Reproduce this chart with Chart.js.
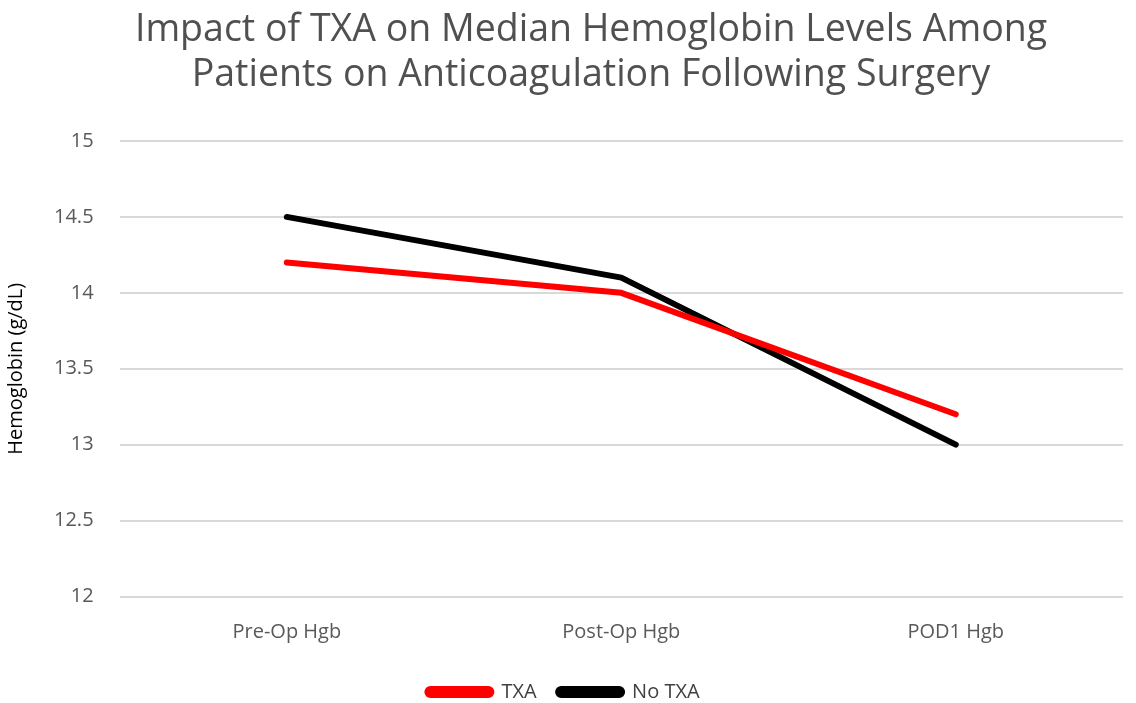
<!DOCTYPE html>
<html>
<head>
<meta charset="utf-8">
<script src="https://cdn.jsdelivr.net/npm/chart.js@4.4.1/dist/chart.umd.min.js"></script>
<style>
  html, body { margin: 0; padding: 0; background: #fff; }
  #wrap { width: 1136px; height: 703px; }
</style>
</head>
<body>
<div id="wrap"><canvas id="chart"></canvas></div>
<script>
// Chart values
const categories = ['Pre-Op Hgb', 'Post-Op Hgb', 'POD1 Hgb'];
const txaValues = [14.2, 14.0, 13.2];
const noTxaValues = [14.5, 14.1, 13.0];
const yTicks = [12, 12.5, 13, 13.5, 14, 14.5, 15];
const titleLines = ['Impact of TXA on Median Hemoglobin Levels Among',
                    'Patients on Anticoagulation Following Surgery'];

const fontFamily = "'Open Sans', 'Liberation Sans', sans-serif";
const textColor = '#595959';

Chart.defaults.font.family = fontFamily;
Chart.defaults.color = textColor;

// Title drawn a bit right of centre, like the original
const titlePlugin = {
    id: 'offsetTitle',
    afterDraw(chart) {
        const c = chart.ctx;
        c.save();
        c.fillStyle = '#505050';
        c.font = `37.5px ${fontFamily}`;
        c.textAlign = 'center';
        c.textBaseline = 'middle';
        c.fillText(titleLines[0], 591, 30);
        c.fillText(titleLines[1], 591, 75);
        c.restore();
    }
};

const ctx = document.getElementById('chart').getContext('2d');
const chart = new Chart(ctx, {
    type: 'line',
    data: {
        labels: categories,
        datasets: [
            {
                label: 'TXA',
                data: txaValues,
                borderColor: '#ff0000',
                backgroundColor: '#ff0000',
                borderWidth: 6,
                borderCapStyle: 'round',
                borderJoinStyle: 'round',
                pointRadius: 0,
                tension: 0
            },
            {
                label: 'No TXA',
                data: noTxaValues,
                borderColor: '#000000',
                backgroundColor: '#000000',
                borderWidth: 6,
                borderCapStyle: 'round',
                borderJoinStyle: 'round',
                pointRadius: 0,
                tension: 0
            }
        ]
    },
    plugins: [titlePlugin],
    options: {
        responsive: true,
        maintainAspectRatio: false,
        animation: false,
        layout: { padding: { left: 4, right: 13, top: 141, bottom: -9 } },
        plugins: {
            title: { display: false },
            legend: {
                position: 'bottom',
                labels: {
                    color: '#404040',
                    font: { size: 20 },
                    boxWidth: 64,
                    boxHeight: 6,
                    useBorderRadius: true,
                    borderRadius: 3,
                    padding: 21.5
                }
            },
            tooltip: { enabled: false }
        },
        scales: {
            x: {
                offset: true,
                grid: { display: false },
                border: { display: false },
                ticks: {
                    color: textColor,
                    font: { size: 20 },
                    padding: 16
                }
            },
            y: {
                min: 12,
                max: 15,
                afterBuildTicks: axis => { axis.ticks = yTicks.map(v => ({ value: v })); },
                border: { display: false },
                grid: { color: '#d9d9d9', lineWidth: 2, drawTicks: false },
                ticks: {
                    color: textColor,
                    font: { size: 20 },
                    padding: 26,
                    callback: v => String(v)
                },
                title: {
                    display: true,
                    text: 'Hemoglobin (g/dL)',
                    color: '#000000',
                    font: { size: 20 },
                    padding: { top: 0, bottom: 0 }
                }
            }
        }
    }
});
</script>
</body>
</html>
